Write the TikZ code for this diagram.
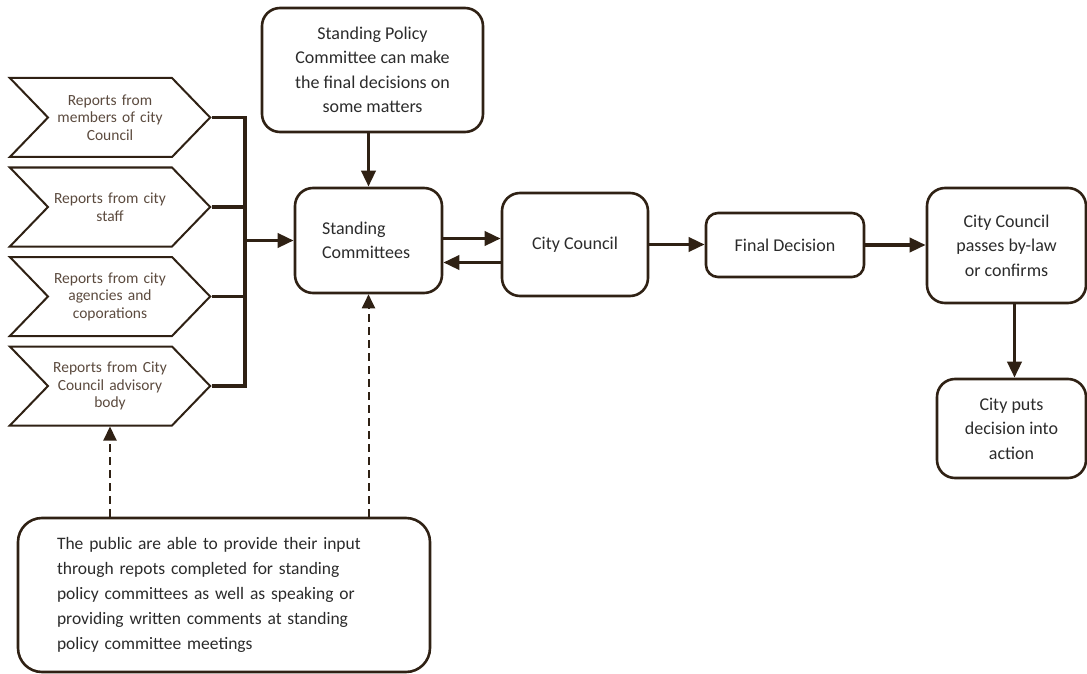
\documentclass[tikz,border=0pt]{standalone}
\usepackage{fontspec}
\setmainfont{Carlito}
\usetikzlibrary{arrows.meta,shapes.symbols}
\definecolor{ink}{HTML}{2F2114}
\definecolor{txt}{HTML}{2B2B2B}
\definecolor{reptxt}{HTML}{5B4A3E}
\begin{document}
\begin{tikzpicture}[x=1pt,y=-1pt,
    box/.style={draw=ink,line width=2.6pt,rounded corners=18pt,align=center,
        text=txt,font=\fontsize{18}{24.5}\selectfont,inner sep=4pt},
    report/.style={signal,signal from=west,signal to=east,signal pointer angle=92,
        draw=ink,line width=2pt,minimum width=196pt,minimum height=79pt,
        text width=124pt,align=center,text=reptxt,inner sep=0pt,
        font=\fontsize{15.5}{17.5}\selectfont},
    arr/.style={-{Triangle[length=16pt,width=14pt]},ink,line width=3.6pt},
    dasharr/.style={-{Triangle[length=14pt,width=13pt]},ink,line width=2pt,
        dash pattern=on 8pt off 5pt}]

    \useasboundingbox (0,0) rectangle (1087,674);

    % the texts

    \node[box,minimum width=221pt,minimum height=124pt] (spc) at (372.5,70)
    {Standing Policy\\Committee can make\\the final decisions on\\some matters};
    \node[box,minimum width=147pt,minimum height=105pt,text width=93pt,align=left]
    (sc) at (368.5,240.5) {Standing\\Committees};
    \node[box,minimum width=146pt,minimum height=103pt] (cc) at (575,244.5)
    {City Council};
    \node[box,rounded corners=12pt,minimum width=158pt,minimum height=64pt] (fd)
    at (785,245) {Final Decision};
    \node[box,minimum width=159pt,minimum height=115pt] (cpb) at (1006.5,245.5)
    {City Council\\passes by-law\\or confirms};
    \node[box,minimum width=149pt,minimum height=99pt] (cpa) at (1011.5,428.5)
    {City puts\\decision into\\action};
    \node[box,rounded corners=24pt,minimum width=412pt,minimum height=154pt,
    text width=334pt,align=left,font=\fontsize{17.5}{25}\selectfont] (pub) at (224,595)
    {The public are able to provide their input\\
     through repots completed for standing\\
     policy committees as well as speaking or\\
     providing written comments at standing\\
     policy committee meetings};

    \node[report] (rep1) at (110,117.5) {Reports from\\members of city\\Council};
    \node[report] (rep2) at (110,207) {Reports from city\\staff};
    \node[report] (rep3) at (110,296.5) {Reports from city\\agencies and\\coporations};
    \node[report] (rep4) at (110,386) {Reports from City\\Council advisory\\body};

    % the links

    \coordinate (bus) at (245,240.5);
    \draw[ink,line width=3.4pt] (rep1.east) -| (bus);
    \draw[ink,line width=3.4pt] (rep4.east) -| (bus);
    \draw[ink,line width=3.4pt] (rep2.east) -- (rep2.east -| bus);
    \draw[ink,line width=3.4pt] (rep3.east) -- (rep3.east -| bus);
    \draw[arr] (bus) -- (sc.west);

    \draw[arr] (spc.south -| sc.north) -- (sc.north);
    \draw[arr] ([yshift=2pt]sc.east) -- ([yshift=2pt]sc.east -| cc.west);
    \draw[arr] ([yshift=-18pt]cc.west) -- ([yshift=-18pt]cc.west -| sc.east);
    \draw[arr] (cc.east) -- (cc.east -| fd.west);
    \draw[arr] (fd.east) -- (fd.east -| cpb.west);
    \draw[arr] ([xshift=8pt]cpb.south) -- ([xshift=8pt]cpb.south |- cpa.north);

    \draw[dasharr] (pub.north -| rep4.south) -- (rep4.south);
    \draw[dasharr] (pub.north -| sc.south) -- (sc.south);
  \end{tikzpicture}
\end{document}
